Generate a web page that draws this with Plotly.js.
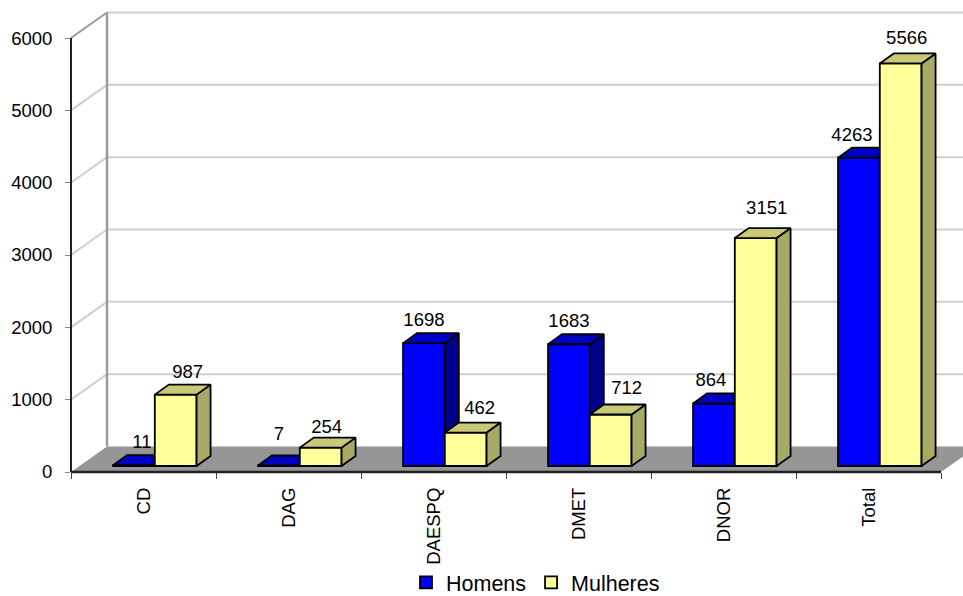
<!DOCTYPE html>
<html>
<head>
<meta charset="utf-8">
<script src="https://cdn.plot.ly/plotly-3.0.1.min.js"></script>
<style>html,body{margin:0;padding:0;background:#fff}</style>
</head>
<body>
<div id="chart" style="width:963px;height:596px"></div>
<script>
const categories = ["CD", "DAG", "DAESPQ", "DMET", "DNOR", "Total"];
const homens = [11, 7, 1698, 1683, 864, 4263];
const mulheres = [987, 254, 462, 712, 3151, 5566];
const yTicks = [0, 1000, 2000, 3000, 4000, 5000, 6000];

// Label nudges in px relative to the top-centre of each bar
const homensNudgeX = [8, 0, 0, 0, -3, -7];
const homensNudgeY = [22, 30, 22, 22, 22, 21];
const mulheresNudgeX = [12, 6, 14, 16, 11, 6];
const mulheresNudgeY = [21, 19, 23, 25, 29, 24];

// Scale of the front plane
const pxPerCat = 145, pxPerVal = 0.07233;
const W = 963, H = 596, L = 71, B = 124;
const xMax = (W - L) / pxPerCat, yMax = (H - B) / pxPerVal;
const dx = px => px / pxPerCat, dy = px => px / pxPerVal;

// Projection
const wallDX = dx(36), wallDY = dy(25.5);
const barDX = dx(14), barDY = dy(10);
const baseVal = dy(6);
const barW = 0.288, startH = 0.29;

const floorColor = "#969696", gridColor = "#cfcfcf", wallEdge = "#9a9a9a", axisColor = "#222222";

function poly(pts, extra) {
  const p = "M" + pts.map(q => q[0] + "," + q[1]).join("L") + "Z";
  return Object.assign({type:"path", xref:"x", yref:"y", layer:"below", path:p, line:{width:0}}, extra);
}
function seg(x0, y0, x1, y1, color, width) {
  return {type:"line", xref:"x", yref:"y", layer:"below", x0, y0, x1, y1, line:{color, width}};
}

const shapes = [];
shapes.push(poly([[0,0],[6,0],[6+wallDX,wallDY],[wallDX,wallDY]], {fillcolor:floorColor}));
yTicks.slice(1).forEach(v => {
  const c = v === 6000 ? wallEdge : gridColor;
  shapes.push(seg(0, v, wallDX, v + wallDY, c, 2));
  shapes.push(seg(wallDX, v + wallDY, xMax, v + wallDY, gridColor, 2));
});
shapes.push(seg(wallDX, wallDY, wallDX, 6000 + wallDY, wallEdge, 2.5));
// Front axis lines: paper refs so the plot-area clip does not cut them
shapes.push({type:"line", xref:"paper", yref:"paper", layer:"above", x0:0, x1:6 / xMax, y0:0, y1:0, line:{color:axisColor, width:2.5}});
shapes.push({type:"line", xref:"paper", yref:"paper", layer:"above", x0:0, x1:0, y0:0, y1:6000 / yMax, line:{color:axisColor, width:2}});

function faces(values, start) {
  const tx = [], ty = [], sx = [], sy = [];
  values.forEach((v, i) => {
    const l = i + start, r = l + barW, top = v + baseVal;
    tx.push(l, r, r + barDX, l + barDX, l, null);
    ty.push(top, top, top + barDY, top + barDY, top, null);
    sx.push(r, r + barDX, r + barDX, r, r, null);
    sy.push(baseVal, baseVal + barDY, top + barDY, top, baseVal, null);
  });
  return {tx, ty, sx, sy};
}

function series(name, values, start, front, top, side, nx, ny, xa, ya) {
  const f = faces(values, start);
  const line = {color:"#000000", width:1.8};
  const xs = values.map((v, i) => i + start + barW / 2);
  return [
    {type:"bar", name, x:xs, y:values, base:values.map(() => baseVal), width:barW,
     marker:{color:front, line:{color:"#000000", width:1.8}}, xaxis:xa, yaxis:ya, hoverinfo:"y"},
    {type:"scatter", mode:"lines", x:f.sx, y:f.sy, fill:"toself", fillcolor:side, line, showlegend:false, hoverinfo:"skip", xaxis:xa, yaxis:ya},
    {type:"scatter", mode:"lines", x:f.tx, y:f.ty, fill:"toself", fillcolor:top, line, showlegend:false, hoverinfo:"skip", xaxis:xa, yaxis:ya},
    {type:"scatter", mode:"text", x:xs.map((x, i) => x + dx(nx[i])),
     y:values.map((v, i) => v + baseVal + dy(ny[i])),
     text:values.map(String), textposition:"middle center", textfont:{size:18.5, color:"#000000"},
     showlegend:false, hoverinfo:"skip", cliponaxis:false, xaxis:xa, yaxis:ya}
  ];
}

const data = [
  ...series("Homens", homens, startH, "#0000ff", "#0000c4", "#00008c", homensNudgeX, homensNudgeY, "x", "y"),
  ...series("Mulheres", mulheres, startH + barW, "#ffff99", "#c9c978", "#a9a966", mulheresNudgeX, mulheresNudgeY, "x2", "y2")
];

const layout = {
  width: W, height: H,
  margin: {l:L, r:0, t:0, b:B, pad:0, autoexpand:false},
  paper_bgcolor:"#ffffff", plot_bgcolor:"#ffffff",
  font:{family:"Liberation Sans, Arial, sans-serif", size:18.5, color:"#000000"},
  barmode:"overlay",
  shapes,
  xaxis:{range:[0,xMax], tickmode:"array", tickvals:[0,1,2,3,4,5,6], ticktext:["","","","","","",""],
         ticks:"outside", ticklen:6, tickcolor:"#444444", tickwidth:1, showgrid:false, zeroline:false, showline:false},
  yaxis:{range:[0,yMax], tickmode:"array", tickvals:yTicks, ticks:"outside", ticklen:5, tickcolor:"#888888", tickwidth:1,
         showgrid:false, zeroline:false, showline:false, tickfont:{size:18.5}, ticklabelstandoff:9},
  xaxis2:{range:[0,xMax], overlaying:"x", anchor:"y2", side:"bottom", tickmode:"array",
          tickvals:categories.map((c,i)=>i+0.5), ticktext:categories, tickangle:-90, ticks:"", ticklabelstandoff:11,
          showgrid:false, zeroline:false, showline:false, tickfont:{size:18.5}},
  yaxis2:{range:[0,yMax], overlaying:"y", anchor:"x2", visible:false, showgrid:false, zeroline:false},
  showlegend:true,
  legend:{orientation:"h", xanchor:"left", yanchor:"top", font:{size:21.5}, bgcolor:"rgba(0,0,0,0)", traceorder:"normal",
          x:(406 - L) / (W - L), y:-(562 - (H - B)) / (H - B)}
};
Plotly.newPlot("chart", data, layout, {displayModeBar:false});
</script>
</body>
</html>
